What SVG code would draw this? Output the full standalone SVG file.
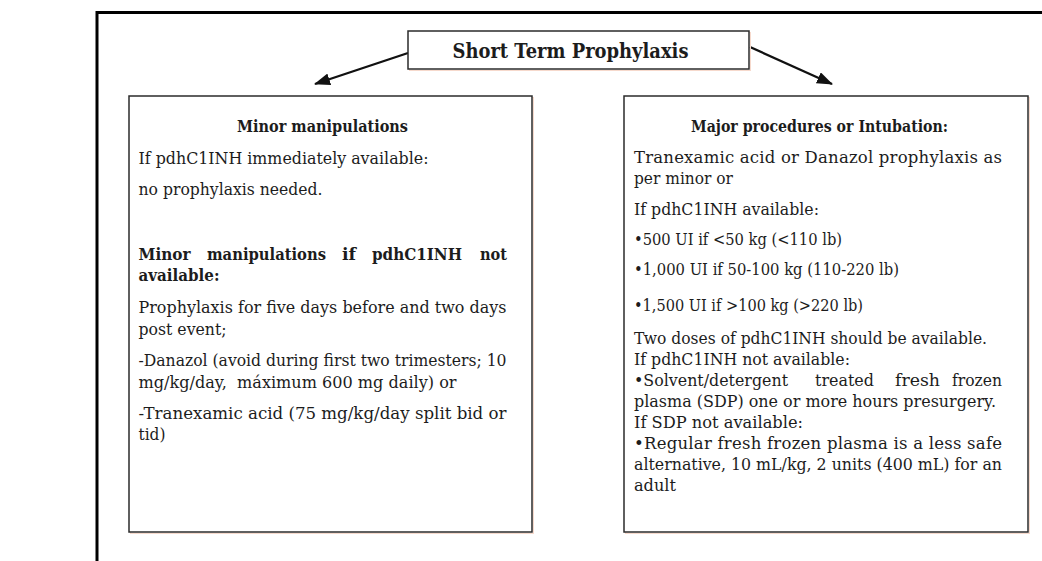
<svg xmlns="http://www.w3.org/2000/svg" width="1042" height="561" viewBox="0 0 1042 561">
  <style>
    .bg { fill: #ffffff; }
    .frame { stroke: #000000; stroke-width: 3; fill: none; }
    .box { fill: #ffffff; stroke: #2b2b2b; stroke-width: 1.5; }
    .halo { fill: none; stroke: #f6d9cc; stroke-width: 1; }
    .t { font-family: "DejaVu Serif", "Liberation Serif", serif; font-size: 16.5px; fill: #1c1c1c; }
    .b { font-family: "DejaVu Serif", "Liberation Serif", serif; font-size: 16.5px; font-weight: bold; fill: #1c1c1c; }
    .ttl { font-family: "DejaVu Serif", "Liberation Serif", serif; font-size: 19.5px; font-weight: bold; fill: #1c1c1c; }
    .conn { stroke: #111111; stroke-width: 2.3; fill: none; }
  </style>
  <defs>
    <marker id="ah" viewBox="0 0 16 12" refX="15" refY="6" markerWidth="16" markerHeight="12" orient="auto" markerUnits="userSpaceOnUse">
      <path d="M0,0 L16,6 L0,12 Z" fill="#111111"/>
    </marker>
  </defs>

  <rect class="bg" x="0" y="0" width="1042" height="561"/>

  <g id="frame">
    <path class="frame" d="M97,561 L97,12.5 L1042,12.5"/>
  </g>

  <g id="connectors">
    <line class="conn" x1="408" y1="53" x2="315" y2="84" marker-end="url(#ah)"/>
    <line class="conn" x1="750" y1="47" x2="832" y2="84" marker-end="url(#ah)"/>
  </g>

  <g id="title">
    <rect class="halo" x="409.5" y="32.5" width="341" height="38"/>
    <rect class="box" x="408" y="31" width="341" height="38"/>
    <text class="ttl" x="452.5" y="57.5" textLength="236" lengthAdjust="spacingAndGlyphs">Short Term Prophylaxis</text>
  </g>

  <g id="minor">
    <rect class="halo" x="130.5" y="97.5" width="403" height="436"/>
    <rect class="box" x="129" y="96" width="403" height="436"/>
    <text class="b" x="237" y="132" textLength="171" lengthAdjust="spacingAndGlyphs">Minor manipulations</text>
    <text class="t" x="138.5" y="164" textLength="290" lengthAdjust="spacingAndGlyphs">If pdhC1INH immediately available:</text>
    <text class="t" x="138.5" y="194.5" textLength="184" lengthAdjust="spacingAndGlyphs">no prophylaxis needed.</text>
    <text class="b" y="259.5"><tspan x="138.5" textLength="52" lengthAdjust="spacingAndGlyphs">Minor</tspan><tspan x="207" textLength="119" lengthAdjust="spacingAndGlyphs">manipulations</tspan><tspan x="342" textLength="14" lengthAdjust="spacingAndGlyphs">if</tspan><tspan x="372" textLength="90" lengthAdjust="spacingAndGlyphs">pdhC1INH</tspan><tspan x="480" textLength="27" lengthAdjust="spacingAndGlyphs">not</tspan></text>
    <text class="b" x="138.5" y="281" textLength="81" lengthAdjust="spacingAndGlyphs">available:</text>
    <text class="t" x="138.5" y="312.5" textLength="368" lengthAdjust="spacingAndGlyphs">Prophylaxis for five days before and two days</text>
    <text class="t" x="138.5" y="334.5" textLength="88" lengthAdjust="spacingAndGlyphs">post event;</text>
    <text class="t" x="138.5" y="366" textLength="368" lengthAdjust="spacingAndGlyphs">-Danazol (avoid during first two trimesters; 10</text>
    <text class="t" x="138.5" y="387.5" textLength="318" lengthAdjust="spacingAndGlyphs" xml:space="preserve">mg/kg/day,  máximum 600 mg daily) or</text>
    <text class="t" x="138.5" y="418.5" textLength="368" lengthAdjust="spacingAndGlyphs">-Tranexamic acid (75 mg/kg/day split bid or</text>
    <text class="t" x="138.5" y="440" textLength="27" lengthAdjust="spacingAndGlyphs">tid)</text>
  </g>

  <g id="major">
    <rect class="halo" x="625.5" y="97.5" width="404" height="436"/>
    <rect class="box" x="624" y="96" width="404" height="436"/>
    <text class="b" x="691" y="132" textLength="257" lengthAdjust="spacingAndGlyphs">Major procedures or Intubation:</text>
    <text class="t" x="634" y="163" textLength="368">Tranexamic acid or Danazol prophylaxis as</text>
    <text class="t" x="634" y="184" textLength="99" lengthAdjust="spacingAndGlyphs">per minor or</text>
    <text class="t" x="634" y="215" textLength="185" lengthAdjust="spacingAndGlyphs">If pdhC1INH available:</text>
    <text class="t" x="634" y="245" textLength="208" lengthAdjust="spacingAndGlyphs">•500 UI if &lt;50 kg (&lt;110 lb)</text>
    <text class="t" x="634" y="275" textLength="265" lengthAdjust="spacingAndGlyphs">•1,000 UI if 50-100 kg (110-220 lb)</text>
    <text class="t" x="634" y="310.5" textLength="229" lengthAdjust="spacingAndGlyphs">•1,500 UI if &gt;100 kg (&gt;220 lb)</text>
    <text class="t" x="634" y="343.5" textLength="353" lengthAdjust="spacingAndGlyphs">Two doses of pdhC1INH should be available.</text>
    <text class="t" x="634" y="365" textLength="216" lengthAdjust="spacingAndGlyphs">If pdhC1INH not available:</text>
    <text class="t" y="386"><tspan x="634" textLength="154" lengthAdjust="spacingAndGlyphs">•Solvent/detergent</tspan><tspan x="815" textLength="59" lengthAdjust="spacingAndGlyphs">treated</tspan><tspan x="895" textLength="45" lengthAdjust="spacingAndGlyphs">fresh</tspan><tspan x="952" textLength="50" lengthAdjust="spacingAndGlyphs">frozen</tspan></text>
    <text class="t" x="634" y="407" textLength="362" lengthAdjust="spacingAndGlyphs">plasma (SDP) one or more hours presurgery.</text>
    <text class="t" x="634" y="427.5" textLength="169" lengthAdjust="spacingAndGlyphs">If SDP not available:</text>
    <text class="t" x="634" y="448.5" textLength="368">•Regular fresh frozen plasma is a less safe</text>
    <text class="t" x="634" y="469.5" textLength="368" lengthAdjust="spacingAndGlyphs">alternative, 10 mL/kg, 2 units (400 mL) for an</text>
    <text class="t" x="634" y="491" textLength="42" lengthAdjust="spacingAndGlyphs">adult</text>
  </g>
</svg>
